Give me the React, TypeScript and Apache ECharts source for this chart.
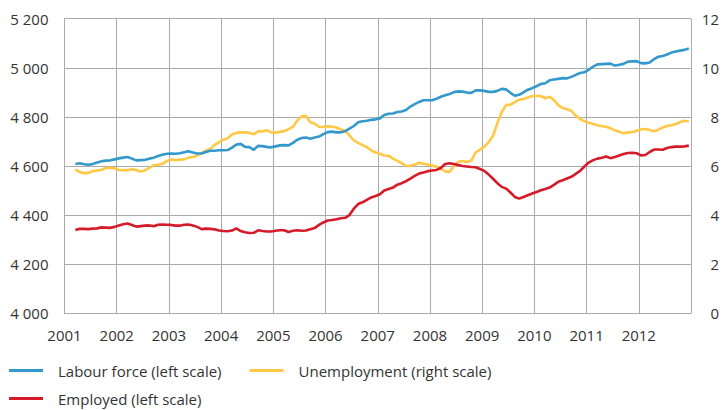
import React, { useEffect, useRef } from "react";
import * as echarts from "echarts";

// Monthly observations, first value = March 2001, last value = December 2012
const startYear = 2001;
const startMonthIndex = 2; // March (0 = January)

const labourForce = [
  4608, 4611, 4607, 4605, 4608, 4614, 4619, 4622, 4623, 4627,
  4631, 4634, 4637, 4630, 4623, 4624, 4625, 4630, 4634, 4641,
  4646, 4650, 4651, 4650, 4652, 4656, 4660, 4655, 4651, 4651,
  4657, 4662, 4662, 4664, 4664, 4665, 4675, 4687, 4690, 4678,
  4677, 4666, 4682, 4681, 4678, 4676, 4680, 4684, 4685, 4684,
  4694, 4707, 4714, 4716, 4711, 4716, 4720, 4730, 4738, 4740,
  4737, 4737, 4742, 4752, 4763, 4778, 4782, 4784, 4788, 4790,
  4794, 4808, 4813, 4814, 4820, 4822, 4828, 4842, 4852, 4861,
  4868, 4868, 4868, 4874, 4882, 4888, 4893, 4901, 4904, 4903,
  4899, 4898, 4908, 4908, 4906, 4902, 4902, 4906, 4914, 4912,
  4898, 4886, 4890, 4900, 4911, 4917, 4925, 4934, 4937, 4949,
  4952, 4955, 4958, 4957, 4963, 4971, 4979, 4982, 4992, 5005,
  5014, 5015, 5016, 5017, 5009, 5012, 5016, 5025, 5026, 5027,
  5019, 5018, 5022, 5035, 5045, 5048, 5054, 5062, 5066, 5070,
  5073, 5079,
];

const employed = [
  4339, 4344, 4344, 4343, 4345, 4346, 4350, 4349, 4348, 4352,
  4358, 4363, 4366, 4360, 4353, 4355, 4357, 4358, 4355, 4361,
  4362, 4361, 4360, 4357, 4357, 4361, 4362, 4358, 4352, 4343,
  4345, 4344, 4342, 4337, 4335, 4334, 4337, 4346, 4335, 4330,
  4327, 4328, 4338, 4335, 4333, 4333, 4336, 4338, 4338, 4331,
  4336, 4338, 4336, 4337, 4342, 4347, 4360, 4370, 4378, 4380,
  4383, 4387, 4389, 4400, 4426, 4445, 4452, 4462, 4472, 4478,
  4485, 4500, 4506, 4512, 4524, 4530, 4538, 4549, 4560, 4569,
  4574, 4579, 4582, 4584, 4592, 4608, 4611, 4608, 4604, 4600,
  4598, 4596, 4595, 4588, 4580, 4565, 4548, 4530, 4515, 4508,
  4492, 4474, 4467, 4474, 4481, 4488, 4494, 4501, 4506, 4512,
  4523, 4536, 4542, 4549, 4556, 4568, 4580, 4598, 4614, 4624,
  4630, 4634, 4639, 4632, 4637, 4643, 4649, 4653, 4654, 4652,
  4643, 4645, 4657, 4667, 4667, 4666, 4673, 4677, 4679, 4679,
  4680, 4683,
];

const unemployment = [
  5.86, 5.75, 5.71, 5.72, 5.79, 5.82, 5.85, 5.92, 5.93, 5.91,
  5.84, 5.83, 5.83, 5.87, 5.84, 5.78, 5.82, 5.92, 6.04, 6.05,
  6.09, 6.2, 6.27, 6.24, 6.26, 6.27, 6.34, 6.37, 6.42, 6.53,
  6.62, 6.69, 6.85, 6.97, 7.07, 7.13, 7.28, 7.35, 7.37, 7.37,
  7.35, 7.29, 7.41, 7.41, 7.46, 7.37, 7.36, 7.39, 7.42, 7.5,
  7.59, 7.85, 8.02, 8.04, 7.78, 7.72, 7.6, 7.59, 7.62, 7.6,
  7.57, 7.49, 7.45, 7.25, 7.04, 6.94, 6.85, 6.77, 6.64, 6.55,
  6.5, 6.43, 6.42, 6.3, 6.21, 6.12, 6.0, 6.01, 6.05, 6.13,
  6.09, 6.06, 6.02, 5.97, 5.88, 5.78, 5.76, 6.0, 6.17, 6.2,
  6.16, 6.22, 6.55, 6.67, 6.79, 6.97, 7.23, 7.75, 8.2, 8.48,
  8.5, 8.6, 8.7, 8.73, 8.79, 8.85, 8.85, 8.85, 8.76, 8.82,
  8.68, 8.48, 8.36, 8.31, 8.25, 8.05, 7.92, 7.82, 7.76, 7.71,
  7.66, 7.62, 7.6, 7.54, 7.45, 7.4, 7.33, 7.37, 7.38, 7.44,
  7.5, 7.51, 7.47, 7.41, 7.48, 7.57, 7.63, 7.66, 7.71, 7.79,
  7.84, 7.81,
];

const seriesNames = [
  "Labour force (left scale)",
  "Unemployment (right scale)",
  "Employed (left scale)",
];

const colors = {
  labour: "#3399cc",
  unemployment: "#ffc845",
  employed: "#d51a2a",
};

const toPoints = (values: number[]) =>
  values.map((v, i) => [startYear + (startMonthIndex + i + 0.5) / 12, v]);

const fmtThousands = (v: number) =>
  String(v).replace(/\B(?=(\d{3})+(?!\d))/g, " ");

const FONT = "'Open Sans', sans-serif";
const TEXT = "#333333";
const GRID = "#ababab";

const legendBase = {
  left: 4,
  icon: "rect",
  itemWidth: 34,
  itemHeight: 3,
  itemGap: 28,
  selectedMode: false,
  textStyle: {
    fontFamily: FONT,
    fontSize: 15,
    color: TEXT,
    padding: [0, 0, 0, 10],
  },
};

export default function App() {
  const ref = useRef<HTMLDivElement>(null);

  useEffect(() => {
    if (!ref.current) return;
    const chart = echarts.init(ref.current, undefined, { renderer: "svg" });
    chart.setOption({
      animation: false,
      backgroundColor: "#ffffff",
      textStyle: { fontFamily: FONT },
      grid: { left: 64.5, right: 30.3, top: 18.7, bottom: 96.7 },
      legend: [
        { ...legendBase, data: [seriesNames[0], seriesNames[1]], top: 358 },
        { ...legendBase, data: [seriesNames[2]], top: 386 },
      ],
      xAxis: {
        type: "value",
        min: 2001,
        max: 2013,
        interval: 1,
        axisLine: { show: true, lineStyle: { color: GRID } },
        axisTick: { show: false },
        splitLine: { show: true, lineStyle: { color: GRID, width: 1 } },
        axisLabel: {
          showMaxLabel: false,
          color: TEXT,
          fontSize: 15,
          fontFamily: FONT,
          margin: 14,
          formatter: (v: number) => (v >= 2013 ? "" : String(v)),
        },
      },
      yAxis: [
        {
          type: "value",
          min: 4000,
          max: 5200,
          interval: 200,
          axisLine: { show: true, lineStyle: { color: GRID } },
          axisTick: { show: false },
          splitLine: { show: true, lineStyle: { color: GRID, width: 1 } },
          axisLabel: {
            color: TEXT,
            fontSize: 15,
            fontFamily: FONT,
            margin: 16,
            formatter: (v: number) => fmtThousands(v),
          },
        },
        {
          type: "value",
          min: 0,
          max: 12,
          interval: 2,
          position: "right",
          axisLine: { show: false },
          axisTick: { show: false },
          splitLine: { show: false },
          axisLabel: {
            color: TEXT,
            fontSize: 15,
            fontFamily: FONT,
            margin: 28,
            align: "right",
          },
        },
      ],
      series: [
        {
          name: seriesNames[0],
          type: "line",
          yAxisIndex: 0,
          data: toPoints(labourForce),
          showSymbol: false,
          lineStyle: { color: colors.labour, width: 2.6 },
          itemStyle: { color: colors.labour },
          z: 3,
        },
        {
          name: seriesNames[1],
          type: "line",
          yAxisIndex: 1,
          data: toPoints(unemployment),
          showSymbol: false,
          lineStyle: { color: colors.unemployment, width: 2.6 },
          itemStyle: { color: colors.unemployment },
          z: 2,
        },
        {
          name: seriesNames[2],
          type: "line",
          yAxisIndex: 0,
          data: toPoints(employed),
          showSymbol: false,
          lineStyle: { color: colors.employed, width: 2.6 },
          itemStyle: { color: colors.employed },
          z: 4,
        },
      ],
    });
    return () => chart.dispose();
  }, []);

  return (
    <div
      ref={ref}
      style={{ position: "fixed", left: 0, top: 0, width: 722, height: 410 }}
    />
  );
}
